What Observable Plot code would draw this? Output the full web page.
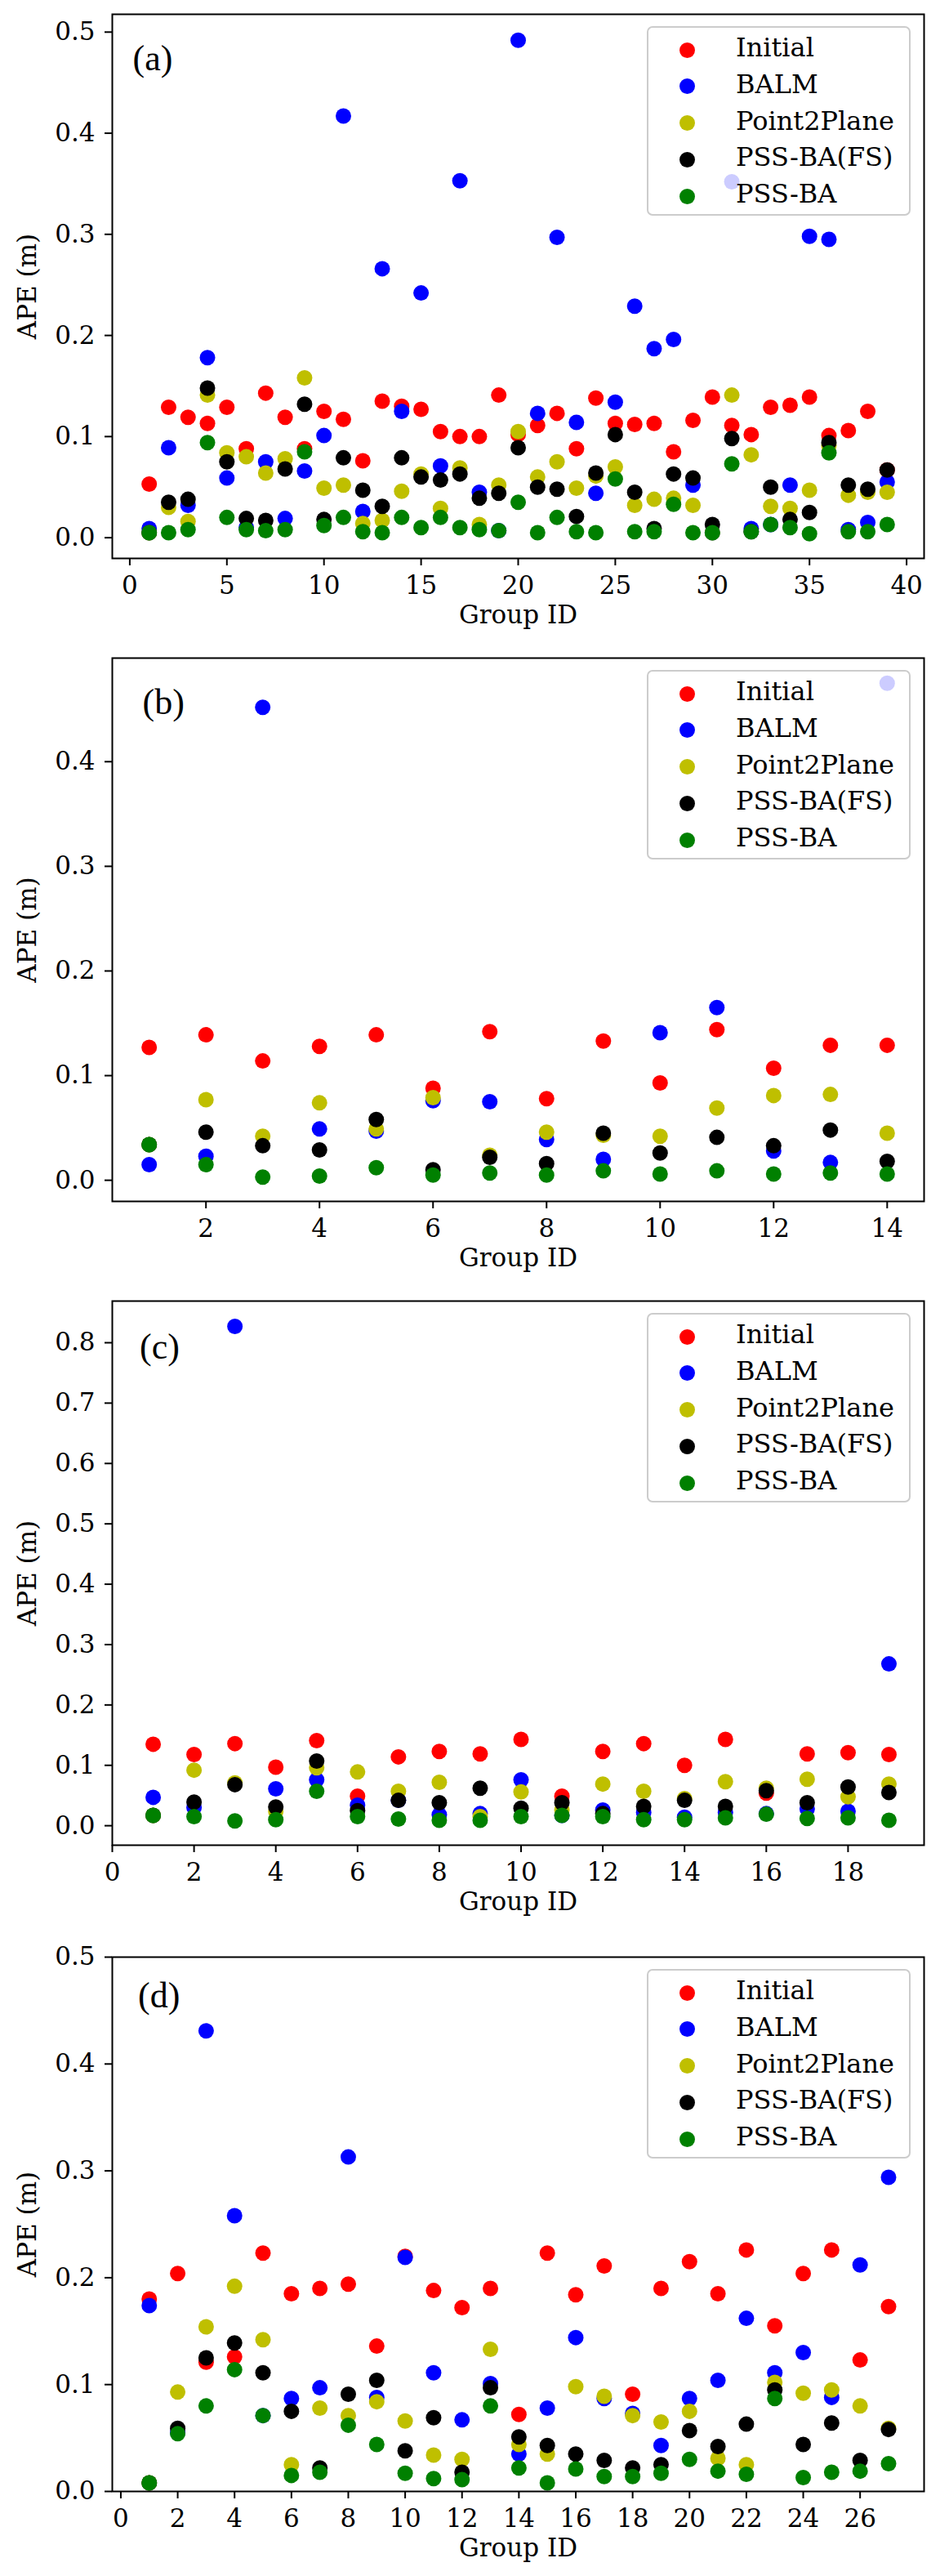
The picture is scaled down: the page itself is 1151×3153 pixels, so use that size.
<!DOCTYPE html>
<html>
<head>
<meta charset="utf-8">
<script src="https://cdn.jsdelivr.net/npm/d3@7"></script>
<script src="https://cdn.jsdelivr.net/npm/@observablehq/plot@0.6"></script>
<style>
  html, body { margin: 0; padding: 0; background: #fff; }
  .panel { position: relative; width: 1151px; }
  .legend { position: absolute; box-sizing: border-box; width: 323px; height: 232px;
            background: rgba(255,255,255,0.8); border: 2px solid #cccccc; border-radius: 7px; }
  .legend .row { position: absolute; left: 0; height: 0; }
  .legend .mk { position: absolute; width: 19px; height: 19px; border-radius: 50%; left: 37.5px; top: -9.5px; }
  .legend .tx { position: absolute; left: 107px; top: -22px; line-height: 38px; white-space: nowrap;
                font-family: "DejaVu Serif"; font-size: 32px; color: #000; }
</style>
</head>
<body>
<div id="chart"></div>
<script>
// ---- series definitions ----
const seriesNames = ["Initial", "BALM", "Point2Plane", "PSS-BA(FS)", "PSS-BA"];
const seriesColors = ["#ff0000", "#0000ff", "#bfbf00", "#000000", "#008000"];

// ---- panel (a): 39 groups ----
const aInitial = [0.053,0.129,0.119,0.113,0.129,0.088,0.143,0.119,0.088,0.125,0.117,0.076,0.135,0.130,0.127,0.105,0.100,0.100,0.141,0.102,0.111,0.123,0.088,0.138,0.113,0.112,0.113,0.085,0.116,0.139,0.111,0.102,0.129,0.131,0.139,0.101,0.106,0.125,0.067];
const aBALM = [0.009,0.089,0.032,0.178,0.059,0.010,0.075,0.019,0.066,0.101,0.417,0.026,0.266,0.125,0.242,0.071,0.353,0.045,0.007,0.492,0.123,0.297,0.114,0.044,0.134,0.229,0.187,0.196,0.052,0.005,0.352,0.009,0.013,0.052,0.298,0.295,0.008,0.015,0.055];
const aP2P = [0.005,0.030,0.016,0.141,0.084,0.080,0.064,0.078,0.158,0.049,0.052,0.014,0.017,0.046,0.063,0.029,0.069,0.013,0.052,0.105,0.060,0.075,0.049,0.061,0.070,0.032,0.038,0.039,0.032,0.005,0.141,0.082,0.031,0.029,0.047,0.091,0.042,0.045,0.045];
const aFS = [0.005,0.035,0.038,0.148,0.075,0.019,0.017,0.068,0.132,0.018,0.079,0.047,0.031,0.079,0.060,0.057,0.063,0.039,0.044,0.089,0.050,0.048,0.021,0.064,0.102,0.045,0.009,0.063,0.059,0.013,0.098,0.006,0.050,0.018,0.025,0.094,0.052,0.048,0.067];
const aPSS = [0.005,0.005,0.008,0.094,0.020,0.008,0.007,0.008,0.085,0.012,0.020,0.006,0.005,0.020,0.010,0.020,0.010,0.008,0.007,0.035,0.005,0.020,0.006,0.005,0.058,0.006,0.006,0.033,0.005,0.005,0.073,0.006,0.013,0.010,0.004,0.084,0.006,0.006,0.013];

// ---- panel (b): 14 groups ----
const bInitial = [0.127,0.139,0.114,0.128,0.139,0.088,0.142,0.078,0.133,0.093,0.144,0.107,0.129,0.129];
const bBALM = [0.015,0.023,0.452,0.049,0.047,0.076,0.075,0.039,0.020,0.141,0.165,0.028,0.017,0.475];
const bP2P = [0.034,0.077,0.042,0.074,0.049,0.079,0.024,0.046,0.043,0.042,0.069,0.081,0.082,0.045];
const bFS = [0.034,0.046,0.033,0.029,0.058,0.010,0.022,0.016,0.045,0.026,0.041,0.033,0.048,0.018];
const bPSS = [0.034,0.015,0.003,0.004,0.012,0.005,0.007,0.005,0.009,0.006,0.009,0.006,0.007,0.006];

// ---- panel (c): 19 groups ----
const cInitial = [0.135,0.118,0.136,0.097,0.141,0.049,0.114,0.123,0.119,0.143,0.049,0.123,0.136,0.100,0.143,0.054,0.119,0.121,0.118];
const cBALM = [0.047,0.030,0.827,0.061,0.076,0.034,0.042,0.018,0.020,0.076,0.017,0.026,0.022,0.014,0.022,0.020,0.028,0.024,0.268];
const cP2P = [0.017,0.092,0.071,0.024,0.096,0.089,0.057,0.072,0.015,0.056,0.026,0.069,0.057,0.045,0.073,0.062,0.077,0.048,0.069];
const cFS = [0.017,0.039,0.068,0.031,0.107,0.025,0.042,0.038,0.062,0.029,0.038,0.020,0.032,0.042,0.032,0.058,0.038,0.064,0.055];
const cPSS = [0.017,0.015,0.008,0.010,0.057,0.015,0.011,0.009,0.009,0.015,0.017,0.015,0.010,0.010,0.013,0.019,0.012,0.013,0.009];

// ---- panel (d): 27 groups ----
const dInitial = [0.180,0.204,0.121,0.126,0.223,0.185,0.190,0.194,0.136,0.220,0.188,0.172,0.190,0.072,0.223,0.184,0.211,0.091,0.190,0.215,0.185,0.226,0.155,0.204,0.226,0.123,0.173];
const dBALM = [0.174,0.055,0.431,0.258,0.071,0.087,0.097,0.313,0.088,0.219,0.111,0.067,0.101,0.035,0.078,0.144,0.087,0.073,0.043,0.087,0.104,0.162,0.111,0.130,0.088,0.212,0.294];
const dP2P = [0.008,0.093,0.154,0.192,0.142,0.025,0.078,0.071,0.084,0.066,0.034,0.030,0.133,0.044,0.035,0.098,0.089,0.071,0.065,0.075,0.031,0.025,0.102,0.092,0.095,0.080,0.059];
const dFS = [0.008,0.059,0.125,0.139,0.111,0.075,0.022,0.091,0.104,0.038,0.069,0.018,0.097,0.051,0.043,0.035,0.029,0.022,0.025,0.057,0.042,0.063,0.095,0.044,0.064,0.029,0.058];
const dPSS = [0.008,0.054,0.080,0.114,0.071,0.015,0.018,0.062,0.044,0.017,0.012,0.011,0.080,0.022,0.008,0.021,0.014,0.014,0.017,0.030,0.019,0.016,0.087,0.013,0.018,0.019,0.026];

// ---- axis tick labels ----
const aXTicks = [0,5,10,15,20,25,30,35,40];
const bXTicks = [2,4,6,8,10,12,14];
const cXTicks = [0,2,4,6,8,10,12,14,16,18];
const dXTicks = [0,2,4,6,8,10,12,14,16,18,20,22,24,26];
const aYTicks = [0,0.1,0.2,0.3,0.4,0.5];
const bYTicks = [0,0.1,0.2,0.3,0.4];
const cYTicks = [0,0.1,0.2,0.3,0.4,0.5,0.6,0.7,0.8];
const dYTicks = [0,0.1,0.2,0.3,0.4,0.5];
const panelLetters = ["(a)", "(b)", "(c)", "(d)"];

// ---- panel configuration (scales + layout) ----
const panels = [
  {letter: panelLetters[0], series: [aInitial,aBALM,aP2P,aFS,aPSS], xDomain: [-0.9, 40.9], yDomain: [-0.0205, 0.5176], xTicks: aXTicks, yTicks: aYTicks,
   h: 788, mt: 17, mb: 105, ldx: 25, ldy: 68.6},
  {letter: panelLetters[1], series: [bInitial,bBALM,bP2P,bFS,bPSS], xDomain: [0.35, 14.65], yDomain: [-0.0202, 0.499], xTicks: bXTicks, yTicks: bYTicks,
   h: 787, mt: 17, mb: 105, ldx: 37, ldy: 68.6},
  {letter: panelLetters[2], series: [cInitial,cBALM,cP2P,cFS,cPSS], xDomain: [0, 19.86], yDomain: [-0.0323, 0.869], xTicks: cXTicks, yTicks: cYTicks,
   h: 788, mt: 17, mb: 105, ldx: 33.5, ldy: 70},
  {letter: panelLetters[3], series: [dInitial,dBALM,dP2P,dFS,dPSS], xDomain: [-0.3, 28.25], yDomain: [0, 0.5], xTicks: dXTicks, yTicks: dYTicks,
   h: 790, mt: 32, mb: 104, ldx: 31.6, ldy: 61}
];

const W = 1151, ML = 137, MR = 20;
const root = document.getElementById("chart");

for (const p of panels) {
  const data = [];
  p.series.forEach((vals, si) => vals.forEach((v, i) => data.push({group: i + 1, ape: v, method: seriesNames[si]})));

  const chart = Plot.plot({
    width: W, height: p.h,
    marginLeft: ML, marginRight: MR, marginTop: p.mt, marginBottom: p.mb,
    style: {fontFamily: "DejaVu Serif", fontSize: "31px", color: "#000", background: "#fff", overflow: "visible"},
    x: {domain: p.xDomain, ticks: p.xTicks, tickFormat: d => String(d)},
    y: {domain: p.yDomain, ticks: p.yTicks, tickFormat: d3.format(".1f")},
    color: {domain: seriesNames, range: seriesColors},
    marks: [
      Plot.axisX({ticks: p.xTicks, tickFormat: d => String(d), tickSize: 9, tickPadding: 12, strokeWidth: 2, label: null, fontSize: 31}),
      Plot.axisY({ticks: p.yTicks, tickFormat: d3.format(".1f"), tickSize: 9, tickPadding: 12, strokeWidth: 2, label: null, fontSize: 31}),
      Plot.dot(data, {x: "group", y: "ape", fill: "method", r: 9.5, stroke: "none"}),
      Plot.frame({stroke: "#000", strokeWidth: 2}),
      Plot.text([p.letter], {text: d => d, frameAnchor: "top-left", dx: p.ldx, dy: p.ldy, textAnchor: "start", lineAnchor: "bottom",
                 fontFamily: "Liberation Serif", fontSize: 44, fill: "#000"}),
      Plot.text(["APE (m)"], {text: d => d, frameAnchor: "left", dx: -103, rotate: -90, textAnchor: "middle", lineAnchor: "middle",
                 fontFamily: "DejaVu Serif", fontSize: 31, fill: "#000"}),
      Plot.text(["Group ID"], {text: d => d, frameAnchor: "bottom", dy: 70, textAnchor: "middle", lineAnchor: "middle",
                 fontFamily: "DejaVu Serif", fontSize: 31, fill: "#000"})
    ]
  });

  const wrap = document.createElement("div");
  wrap.className = "panel";
  wrap.style.height = p.h + "px";
  wrap.appendChild(chart);

  const leg = document.createElement("div");
  leg.className = "legend";
  leg.style.left = (W - MR - 16 - 323) + "px";
  leg.style.top = (p.mt + 15) + "px";
  seriesNames.forEach((name, i) => {
    const row = document.createElement("div");
    row.className = "row";
    row.style.top = (27 + i * 44.8) + "px";
    const mk = document.createElement("div");
    mk.className = "mk";
    mk.style.background = seriesColors[i];
    const tx = document.createElement("div");
    tx.className = "tx";
    tx.textContent = name;
    row.appendChild(mk);
    row.appendChild(tx);
    leg.appendChild(row);
  });
  wrap.appendChild(leg);
  root.appendChild(wrap);
}
</script>
</body>
</html>
